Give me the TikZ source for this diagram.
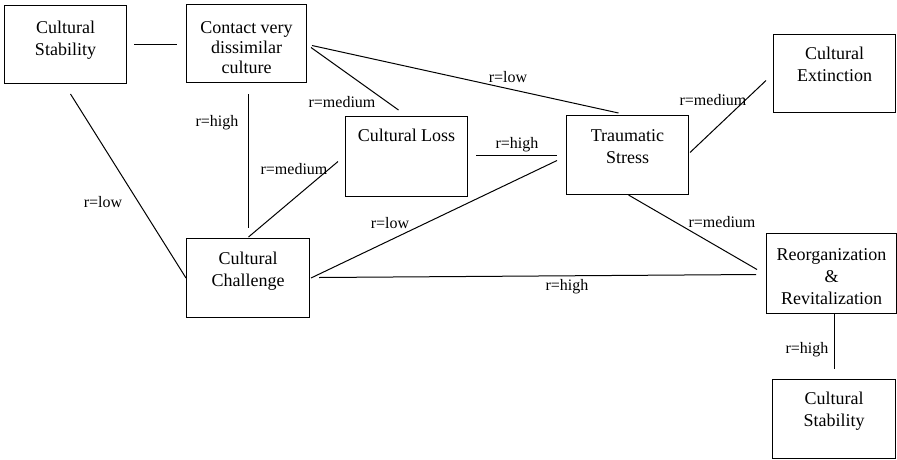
\documentclass[tikz,border=0pt]{standalone}
\usepackage{fontspec}
\setmainfont{Liberation Serif}
\newcommand{\bxt}[4]{\parbox[c][#2][t]{#1}{\centering\vspace*{#3}#4\par}}
\tikzset{
  box/.style={draw, line width=1pt, inner sep=0pt, anchor=north west, font=\fontsize{18}{22}\selectfont},
  conn/.style={line width=1pt},
  lab/.style={inner sep=0pt, font=\fontsize{16}{18}\selectfont}
}
\begin{document}
\begin{tikzpicture}[x=1pt,y=-1pt]
\useasboundingbox (0,0) rectangle (897,459);
% boxes
\node[box] (cs1) at (4,5) {\bxt{122pt}{78pt}{16pt}{Cultural\\Stability}};
\node[box] (contact) at (186,4) {\bxt{120pt}{78pt}{17pt}{Contact very\\[-2pt]dissimilar\\[-2pt]culture}};
\node[box] (loss) at (345,116) {\bxt{122pt}{80pt}{13pt}{Cultural Loss}};
\node[box] (trauma) at (566,115) {\bxt{122pt}{79pt}{14pt}{Traumatic\\Stress}};
\node[box] (extinct) at (773,34) {\bxt{122pt}{78pt}{13pt}{Cultural\\Extinction}};
\node[box] (chal) at (186,238) {\bxt{123pt}{79pt}{14pt}{Cultural\\Challenge}};
\node[box] (reorg) at (766,233) {\bxt{130pt}{80pt}{15pt}{Reorganization\\\&\\Revitalization}};
\node[box] (cs2) at (772,379) {\bxt{123pt}{79pt}{13pt}{Cultural\\Stability}};
% connectors
\draw[conn] ([shift={(7,0)}]cs1.east) -- ([shift={(-9,1)}]contact.west);
\draw[conn] ([shift={(5,10)}]cs1.south) -- (chal.west);
\draw[conn] ([shift={(2,11)}]contact.south) -- ([shift={(0.5,-10)}]chal.north);
\draw[conn] ([shift={(4,4)}]contact.east) -- ([shift={(-8,-6)}]loss.north);
\draw[conn] ([shift={(5,2)}]contact.east) -- ([shift={(-9,-2)}]trauma.north);
\draw[conn] ([shift={(8,-1)}]loss.east) -- ([shift={(-9,0.5)}]trauma.west);
\draw[conn] ([shift={(0.5,-1)}]chal.north) -- ([shift={(-7,5)}]loss.west);
\draw[conn] ([shift={(1,0)}]chal.east) -- ([shift={(-9,5.5)}]trauma.west);
\draw[conn] ([shift={(9,-0.5)}]chal.east) -- ([shift={(-10,1)}]reorg.west);
\draw[conn] ([shift={(1,0)}]trauma.south) -- ([shift={(-9,-4)}]reorg.west);
\draw[conn] ([shift={(1,-2.5)}]trauma.east) -- ([shift={(-7,7)}]extinct.west);
\draw[conn] ([shift={(3,0)}]reorg.south) -- ([shift={(0.5,-10)}]cs2.north);
% labels
\node[lab] (l1) at (103,202) {r=low};
\node[lab] (l2) at (217,123) {r=high};
\node[lab] (l3) at (342,102) {r=medium};
\node[lab] (l4) at (508,77) {r=low};
\node[lab] (l5) at (294,169) {r=medium};
\node[lab] (l6) at (517,145) {r=high};
\node[lab] (l7) at (390,223) {r=low};
\node[lab] (l8) at (567,287) {r=high};
\node[lab] (l9) at (722,222) {r=medium};
\node[lab] (l10) at (713,100) {r=medium};
\node[lab] (l11) at (807,350) {r=high};
\end{tikzpicture}
\end{document}
